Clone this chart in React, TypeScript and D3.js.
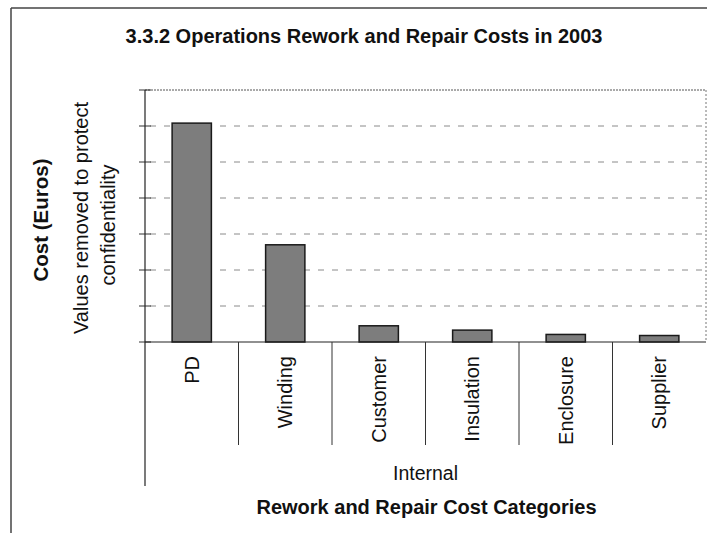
import React from "react";
import * as d3 from "d3";

const title = "3.3.2 Operations Rework and Repair Costs in 2003";
const categories = ["PD", "Winding", "Customer", "Insulation", "Enclosure", "Supplier"];
const values = [6.08, 2.7, 0.45, 0.33, 0.21, 0.18];
const yTicks = [0, 1, 2, 3, 4, 5, 6, 7];
const groupLabel = "Internal";
const xTitle = "Rework and Repair Cost Categories";
const yTitle = "Cost (Euros)";
const ySubtitle = ["Values removed to protect", "confidentiality"];

const W = 707;
const H = 533;
const FONT = "'Liberation Sans', Arial, Helvetica, sans-serif";

export default function App() {
  const left = 145;
  const right = 706;
  const top = 90;
  const base = 342;

  const x = d3.scaleBand<string>().domain(categories).range([left, right]).padding(0);
  const y = d3.scaleLinear().domain([0, 7]).range([base, top]);
  const bw = x.bandwidth() * 0.42;
  const sepBottom = 445;
  const groupBottom = 486;

  return (
    <svg
      width={W}
      height={H}
      style={{ position: "absolute", left: 0, top: 0, background: "#fff" }}
      fontFamily={FONT}
    >
      <rect x={0} y={0} width={W} height={H} fill="#fff" />
      {/* outer frame */}
      <line x1={11} y1={8} x2={W} y2={8} stroke="#444" strokeWidth={1.5} />
      <line x1={11} y1={8} x2={11} y2={H} stroke="#444" strokeWidth={1.5} />

      {/* title */}
      <text x={364} y={43} textAnchor="middle" fontSize={20} fontWeight="bold" fill="#111">
        {title}
      </text>

      {/* plot border top / right */}
      <line x1={left} y1={top} x2={right} y2={top} stroke="#555" strokeWidth={1} strokeDasharray="2,1" />
      <line x1={right} y1={top} x2={right} y2={base} stroke="#777" strokeWidth={1} strokeDasharray="2,2" />

      {/* gridlines */}
      {yTicks.slice(1, -1).map((t) => (
        <line
          key={"g" + t}
          x1={left}
          x2={right}
          y1={y(t)}
          y2={y(t)}
          stroke="#8a8a8a"
          strokeWidth={1}
          strokeDasharray="6,8"
          strokeDashoffset={-5}
        />
      ))}

      {/* y ticks */}
      {yTicks.map((t) => (
        <line key={"t" + t} x1={139} x2={151} y1={y(t)} y2={y(t)} stroke="#333" strokeWidth={1} />
      ))}

      {/* bars */}
      {categories.map((c, i) => {
        const cx = (x(c) as number) + x.bandwidth() / 2;
        return (
          <rect
            key={c}
            x={cx - bw / 2}
            y={y(values[i])}
            width={bw}
            height={base - y(values[i])}
            fill="#7d7d7d"
            stroke="#1a1a1a"
            strokeWidth={1.5}
          />
        );
      })}

      {/* axes */}
      <line x1={left} y1={top} x2={left} y2={groupBottom} stroke="#222" strokeWidth={1.2} />
      <line x1={left} y1={base} x2={right} y2={base} stroke="#222" strokeWidth={1.2} />

      {/* category separators */}
      {categories.slice(1).map((c) => (
        <line
          key={"s" + c}
          x1={x(c) as number}
          x2={x(c) as number}
          y1={base}
          y2={sepBottom}
          stroke="#333"
          strokeWidth={1}
        />
      ))}

      {/* category labels */}
      {categories.map((c) => {
        const cx = (x(c) as number) + x.bandwidth() / 2 + 7;
        return (
          <text
            key={"l" + c}
            transform={`translate(${cx},${356}) rotate(-90)`}
            textAnchor="end"
            fontSize={20}
            fill="#111"
          >
            {c}
          </text>
        );
      })}

      {/* group label */}
      <text x={(left + right) / 2} y={480} textAnchor="middle" fontSize={19.5} fill="#111">
        {groupLabel}
      </text>

      {/* x title */}
      <text x={426.5} y={514} textAnchor="middle" fontSize={20} fontWeight="bold" fill="#111">
        {xTitle}
      </text>

      {/* y titles */}
      <text transform={`translate(48,220) rotate(-90)`} textAnchor="middle" fontSize={20.5} fontWeight="bold" fill="#111">
        {yTitle}
      </text>
      <text transform={`translate(88,218) rotate(-90)`} textAnchor="middle" fontSize={20} fill="#111">
        {ySubtitle[0]}
      </text>
      <text transform={`translate(115,225) rotate(-90)`} textAnchor="middle" fontSize={20} fill="#111">
        {ySubtitle[1]}
      </text>
    </svg>
  );
}
